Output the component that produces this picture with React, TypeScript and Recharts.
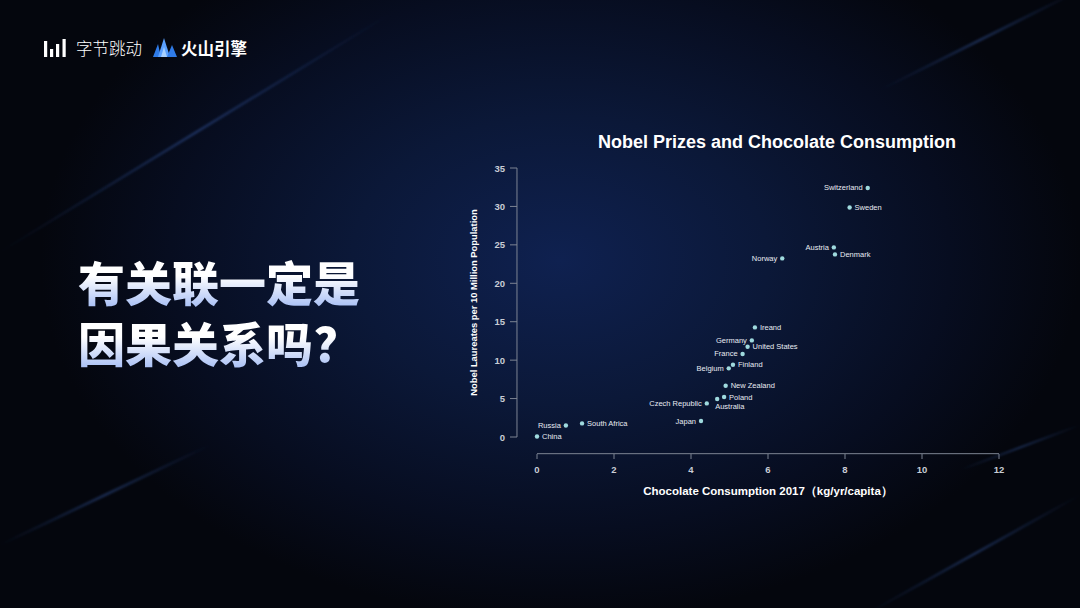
import React from 'react';
import { Label, ReferenceLine, Scatter, ScatterChart, XAxis, YAxis } from 'recharts';

const countries = [
  'China', 'Russia', 'South Africa', 'Japan', 'Czech Republic', 'Australia', 'Poland',
  'New Zealand', 'Belgium', 'Finland', 'France', 'United States', 'Germany', 'Ireand',
  'Norway', 'Austria', 'Denmark', 'Sweden', 'Switzerland',
];
const chocolate = [0.0, 0.75, 1.17, 4.26, 4.41, 4.68, 4.86, 4.9, 4.98, 5.09, 5.34, 5.47, 5.58, 5.66, 6.37, 7.71, 7.74, 8.12, 8.59];
const laureates = [0.06, 1.5, 1.77, 2.08, 4.37, 4.94, 5.2, 6.67, 8.93, 9.41, 10.8, 11.75, 12.57, 14.26, 23.24, 24.67, 23.76, 29.87, 32.4];
const labelsOnLeft = ['Russia', 'Japan', 'Czech Republic', 'Belgium', 'France', 'Germany', 'Norway', 'Austria', 'Switzerland'];
const labelsBelow = ['Australia'];
const xTicks = [0, 2, 4, 6, 8, 10, 12];
const yTicks = [0, 5, 10, 15, 20, 25, 30, 35];
const headline = ['有关联一定是', '因果关系吗?'];

const data = countries.map((name, i) => ({ name, x: chocolate[i], y: laureates[i] }));

const FONT = '"Liberation Sans", Arial, sans-serif';
const AXIS = '#7d8493';
const TICK_TEXT = '#c9cdd6';
const DOT = '#9fdade';

const CountryDot = (props: any) => {
  const { cx, cy, payload } = props;
  const name = payload.name;
  const common = { fontSize: 7.5, fontFamily: FONT, fill: '#e8ebf2', dominantBaseline: 'central' as const };
  let label;
  if (labelsBelow.includes(name)) {
    label = <text x={cx - 2} y={cy + 7.5} textAnchor="start" {...common}>{name}</text>;
  } else if (labelsOnLeft.includes(name)) {
    label = <text x={cx - 5} y={cy} textAnchor="end" {...common}>{name}</text>;
  } else {
    label = <text x={cx + 5} y={cy} textAnchor="start" {...common}>{name}</text>;
  }
  return (
    <g>
      <circle cx={cx} cy={cy} r={2.2} fill={DOT} />
      {label}
    </g>
  );
};

const XTick = (props: any) => {
  const { x, y, payload } = props;
  return (
    <g>
      <line x1={x} x2={x} y1={y + 17} y2={y + 22} stroke={AXIS} />
      <text x={x} y={y + 32} textAnchor="middle" dominantBaseline="central" fontSize={9.5} fontWeight="bold" fontFamily={FONT} fill={TICK_TEXT}>
        {payload.value}
      </text>
    </g>
  );
};

const YTick = (props: any) => {
  const { x, y, payload } = props;
  return (
    <g>
      <line x1={x - 20} x2={x - 27} y1={y} y2={y} stroke={AXIS} />
      <text x={x - 32} y={y} textAnchor="end" dominantBaseline="central" fontSize={9.5} fontWeight="bold" fontFamily={FONT} fill={TICK_TEXT}>
        {payload.value}
      </text>
    </g>
  );
};

const Streaks = () => (
  <svg width={1080} height={608} style={{ position: 'absolute', left: 0, top: 0 }}>
    <defs>
      <linearGradient id="streak" x1="0" y1="1" x2="1" y2="0">
        <stop offset="0" stopColor="#3d6fd6" stopOpacity="0" />
        <stop offset="0.5" stopColor="#4f84f0" stopOpacity="0.3" />
        <stop offset="1" stopColor="#3d6fd6" stopOpacity="0" />
      </linearGradient>
      <filter id="soft">
        <feGaussianBlur stdDeviation="1.2" />
      </filter>
    </defs>
    <g filter="url(#soft)">
      <line x1={0} y1={252} x2={390} y2={14} stroke="url(#streak)" strokeWidth={2.5} />
      <line x1={880} y1={90} x2={1080} y2={-10} stroke="url(#streak)" strokeWidth={2.5} />
      <line x1={0} y1={545} x2={210} y2={445} stroke="url(#streak)" strokeWidth={2.5} />
      <line x1={870} y1={612} x2={1080} y2={495} stroke="url(#streak)" strokeWidth={2.5} />
      <line x1={960} y1={470} x2={1080} y2={425} stroke="url(#streak)" strokeWidth={2} />
    </g>
  </svg>
);

const Logos = () => (
  <div style={{ position: 'absolute', left: 44, top: 36, display: 'flex', alignItems: 'center', color: '#ffffff' }}>
    <svg width={23} height={20}>
      <rect x={0} y={3} width={3.2} height={16} fill="#ffffff" />
      <rect x={6} y={11} width={3.2} height={8} fill="#ffffff" />
      <rect x={12} y={6} width={3.2} height={13} fill="#ffffff" />
      <rect x={18.5} y={1} width={3.2} height={18} fill="#ffffff" />
    </svg>
    <span style={{ marginLeft: 9, fontSize: 16.5, fontFamily: '"Noto Sans CJK SC", sans-serif', fontWeight: 300 }}>字节跳动</span>
    <svg width={24} height={20} style={{ marginLeft: 11 }}>
      <polygon points="0,19 5,6 8,19" fill="#2f7be8" />
      <polygon points="5,19 11,0 17,19" fill="#5aa0ff" />
      <polygon points="14,19 19,7 24,19" fill="#2f7be8" />
      <polygon points="8,19 11,9 14,19" fill="#a8d0ff" />
    </svg>
    <span style={{ marginLeft: 4, fontSize: 16.5, fontFamily: '"Noto Sans CJK SC", sans-serif', fontWeight: 700 }}>火山引擎</span>
  </div>
);

export default function App() {
  return (
    <div
      style={{
        position: 'absolute',
        left: 0,
        top: 0,
        width: 1080,
        height: 608,
        overflow: 'hidden',
        background:
          'radial-gradient(ellipse 520px 360px at 560px 260px, #0f2150 0%, #0b1838 40%, #070d20 75%, #04060d 100%), #04060d',
      }}
    >
      <Streaks />
      <Logos />
      <div style={{ position: 'absolute', left: 78, top: 255 }}>
        {headline.map((line) => (
          <div
            key={line}
            style={{
              height: 61,
              fontFamily: '"Noto Sans CJK SC", sans-serif',
              fontWeight: 900,
              fontSize: 47,
              lineHeight: '52px',
              background: 'linear-gradient(180deg, #ffffff 0%, #ffffff 40%, #a9c0f5 100%)',
              backgroundSize: '100% 52px',
              backgroundRepeat: 'no-repeat',
              WebkitBackgroundClip: 'text',
              backgroundClip: 'text',
              color: 'transparent',
              whiteSpace: 'nowrap',
            }}
          >
            {line}
          </div>
        ))}
      </div>
      <div
        style={{
          position: 'absolute',
          left: 577,
          top: 132,
          width: 400,
          textAlign: 'center',
          fontFamily: FONT,
          fontWeight: 'bold',
          fontSize: 18,
          color: '#ffffff',
        }}
      >
        Nobel Prizes and Chocolate Consumption
      </div>
      <div style={{ position: 'absolute', left: 0, top: 0 }}>
        <ScatterChart width={1080} height={608} margin={{ top: 168, right: 81, bottom: 131, left: 497 }}>
          <XAxis
            type="number"
            dataKey="x"
            domain={[0, 12]}
            ticks={xTicks}
            height={40}
            axisLine={false}
            tickLine={false}
            tickSize={0}
            tickMargin={0}
            tick={<XTick />}
          >
            <Label
              content={(p: any) => (
                <text
                  x={p.viewBox.x + p.viewBox.width / 2}
                  y={p.viewBox.y + 54}
                  textAnchor="middle"
                  dominantBaseline="central"
                  fontSize={11.5}
                  fontWeight="bold"
                  fontFamily={FONT}
                  fill="#ffffff"
                >
                  Chocolate Consumption 2017（kg/yr/capita）
                </text>
              )}
            />
          </XAxis>
          <YAxis
            type="number"
            dataKey="y"
            domain={[0, 35]}
            ticks={yTicks}
            width={40}
            axisLine={false}
            tickLine={false}
            tickSize={0}
            tickMargin={0}
            tick={<YTick />}
          >
            <Label
              content={(p: any) => {
                const cx = p.viewBox.x - 24;
                const cy = p.viewBox.y + p.viewBox.height / 2;
                return (
                  <text
                    x={cx}
                    y={cy}
                    transform={`rotate(-90 ${cx} ${cy})`}
                    textAnchor="middle"
                    dominantBaseline="central"
                    fontSize={9.4}
                    fontWeight="bold"
                    fontFamily={FONT}
                    fill="#ffffff"
                  >
                    Nobel Laureates per 10 Million Population
                  </text>
                );
              }}
            />
          </YAxis>
          <ReferenceLine segment={[{ x: 0, y: -2.17 }, { x: 12, y: -2.17 }]} stroke={AXIS} ifOverflow="visible" />
          <ReferenceLine segment={[{ x: -0.52, y: 0 }, { x: -0.52, y: 35 }]} stroke={AXIS} ifOverflow="visible" />
          <Scatter data={data} shape={<CountryDot />} isAnimationActive={false} />
        </ScatterChart>
      </div>
    </div>
  );
}
